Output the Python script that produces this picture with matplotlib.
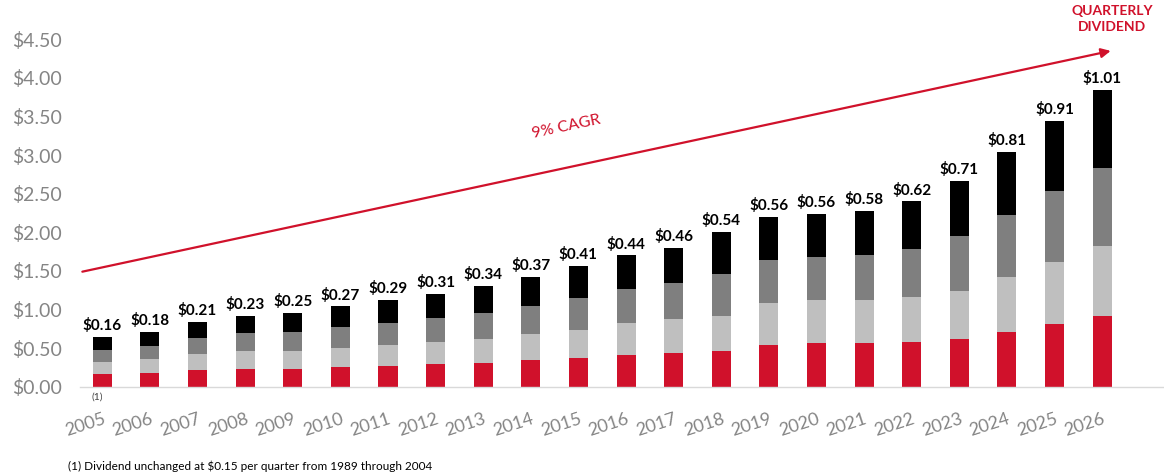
import matplotlib
matplotlib.use("Agg")
import matplotlib.pyplot as plt
import numpy as np

plt.rcParams['font.family'] = ['Lato', 'DejaVu Sans']

years = [str(y) for y in range(2005, 2027)]
q1 = [0.16, 0.18, 0.21, 0.23, 0.23, 0.25, 0.27, 0.29, 0.31, 0.34, 0.37, 0.41, 0.44, 0.46, 0.54, 0.56, 0.56, 0.58, 0.62, 0.71, 0.81, 0.91]
q2 = [0.16, 0.18, 0.21, 0.23, 0.23, 0.25, 0.27, 0.29, 0.31, 0.34, 0.37, 0.41, 0.44, 0.46, 0.54, 0.56, 0.56, 0.58, 0.62, 0.71, 0.81, 0.91]
q3 = [0.16, 0.17, 0.21, 0.23, 0.25, 0.27, 0.29, 0.31, 0.34, 0.37, 0.41, 0.44, 0.46, 0.54, 0.56, 0.56, 0.58, 0.62, 0.71, 0.81, 0.91, 1.01]
q4 = [0.16, 0.18, 0.21, 0.23, 0.25, 0.27, 0.29, 0.31, 0.34, 0.37, 0.41, 0.44, 0.46, 0.54, 0.56, 0.56, 0.58, 0.62, 0.71, 0.81, 0.91, 1.01]
labels = ['$0.16', '$0.18', '$0.21', '$0.23', '$0.25', '$0.27', '$0.29', '$0.31', '$0.34', '$0.37', '$0.41',
          '$0.44', '$0.46', '$0.54', '$0.56', '$0.56', '$0.58', '$0.62', '$0.71', '$0.81', '$0.91', '$1.01']
yticks = [0.0, 0.5, 1.0, 1.5, 2.0, 2.5, 3.0, 3.5, 4.0, 4.5]

colors = ['#D0112B', '#BFBFBF', '#7F7F7F', '#000000']
red = '#D0112B'

fig = plt.figure(figsize=(11.64, 4.76), dpi=100)
ax = fig.add_axes([0.0687, 0.1876, 0.9313, 0.7298])

x = np.arange(len(years))
bottom = np.zeros(len(years))
for vals, c in zip([q1, q2, q3, q4], colors):
    ax.bar(x, vals, width=0.4, bottom=bottom, color=c, linewidth=0)
    bottom = bottom + np.array(vals)

for xi, tot, lab in zip(x, bottom, labels):
    ax.text(xi, tot + 0.05, lab, ha='center', va='bottom', fontsize=11, fontweight='bold', color='black')

ax.set_xlim(-0.47, 22.3)
ax.set_ylim(0, 4.5)
ax.set_yticks(yticks)
ax.set_yticklabels([f'${v:.2f}' for v in yticks], fontsize=14, color='#858585')
ax.set_xticks(x)
ax.set_xticklabels(years, fontsize=13, color='#858585', rotation=18, ha='right', rotation_mode='anchor')
ax.tick_params(axis='x', length=0, pad=17)
ax.tick_params(axis='y', length=0, pad=13)

for s in ['top', 'right', 'left']:
    ax.spines[s].set_visible(False)
ax.spines['bottom'].set_color('#D9D9D9')
ax.spines['bottom'].set_linewidth(1.0)

# CAGR arrow
ax.annotate('', xy=(21.18, 4.35), xytext=(-0.42, 1.49),
            arrowprops=dict(arrowstyle='-|>', color=red, lw=1.6, mutation_scale=14, shrinkA=0, shrinkB=0),
            annotation_clip=False)
ax.text(9.75, 3.36, '9% CAGR', color=red, fontsize=11.5, rotation=12, ha='center', va='center')

fig.text(1112 / 1164, 1 - 19 / 476, 'QUARTERLY\nDIVIDEND', color=red, fontsize=10, fontweight='bold',
         ha='center', va='center', linespacing=1.35)

ax.text(-0.1, -0.13, '(1)', ha='center', va='center', fontsize=7.5, color='#404040')

fig.text(68 / 1164, 1 - 466 / 476, '(1) Dividend unchanged at $0.15 per quarter from 1989 through 2004',
         fontsize=8.5, color='#000000', ha='left', va='center')

fig.savefig('out.png', dpi=100)
